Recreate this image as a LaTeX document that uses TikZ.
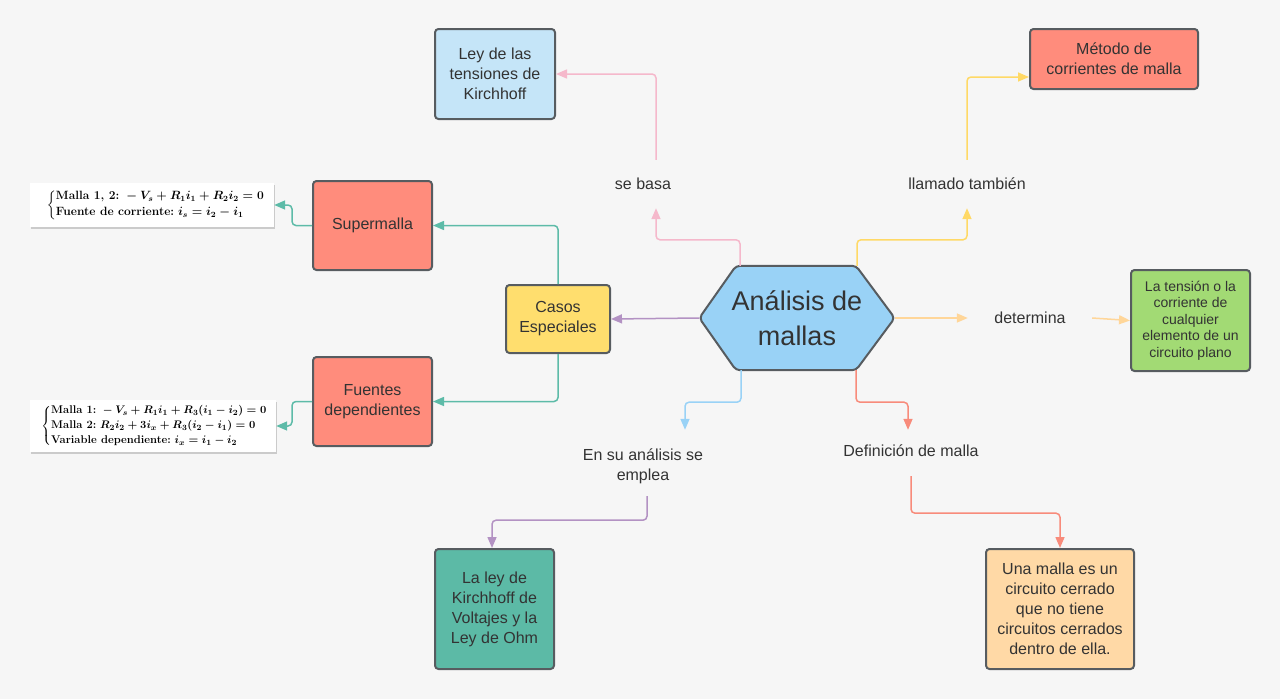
\documentclass[tikz,border=0pt]{standalone}
\usepackage{amsmath}
\usepackage{fontspec}
\newfontfamily\arialf{Liberation Sans}
\usetikzlibrary{arrows.meta,shadows,calc}
\pgfdeclarelayer{back}
\pgfsetlayers{back,main}
\definecolor{bgc}{HTML}{F6F6F6}
\definecolor{boxline}{HTML}{575C60}
\definecolor{txt}{HTML}{333333}
\definecolor{cley}{HTML}{C5E5F8}
\definecolor{csalmon}{HTML}{FF8C7C}
\definecolor{cgreen}{HTML}{A2DA74}
\definecolor{cyellow}{HTML}{FFDE6E}
\definecolor{cteal}{HTML}{5CBAA6}
\definecolor{cpeach}{HTML}{FFD9A6}
\definecolor{chex}{HTML}{99D2F6}
\definecolor{lpink}{HTML}{F5B8CB}
\definecolor{lyellow}{HTML}{FFD966}
\definecolor{lorange}{HTML}{FFD699}
\definecolor{lpurple}{HTML}{B392C3}
\definecolor{lteal}{HTML}{5DBBA8}
\definecolor{lblue}{HTML}{99D2F6}
\definecolor{lred}{HTML}{F88B7B}
\begin{document}
\begin{tikzpicture}[x=1pt,y=-1pt,
  box/.style={draw=boxline, line width=2pt, rounded corners=3.5pt, align=center,
    font=\arialf\fontsize{16}{20}\selectfont, text=txt, inner sep=0pt},
  lbl/.style={align=center, font=\arialf\fontsize{16}{20}\selectfont, text=txt, inner sep=0pt},
  conn/.style={line width=1.5pt, rounded corners=4pt, -{Triangle[length=11pt,width=9pt]}},
  fbox/.style={fill=white, inner sep=0pt, align=left,
    drop shadow={shadow xshift=0.5pt, shadow yshift=-2pt, fill=black!70, opacity=0.25}}
]
\begin{pgfonlayer}{back}
\useasboundingbox[fill=bgc] (0,0) rectangle (1280,699);
\end{pgfonlayer}

% central hexagon (text node)
\node[lbl, minimum width=195pt, minimum height=104pt, font=\arialf\fontsize{27}{35}\selectfont] (hex) at (797,318) {Análisis de\\mallas};
\begin{pgfonlayer}{back}
\draw[fill=chex, draw=boxline, line width=2pt, rounded corners=4pt]
  (hex.west) -- ([xshift=-61pt]hex.north) -- ([xshift=59pt]hex.north) -- (hex.east)
  -- ([xshift=59pt]hex.south) -- ([xshift=-61pt]hex.south) -- cycle;
\end{pgfonlayer}

% boxes
\node[box, fill=cley, minimum width=120pt, minimum height=90pt] (ley) at (495,74) {Ley de las\\tensiones de\\Kirchhoff};
\node[box, fill=csalmon, minimum width=168pt, minimum height=60pt] (metodo) at (1114,59) {Método de\\corrientes de malla};
\node[box, fill=cgreen, minimum width=119pt, minimum height=101pt, font=\arialf\fontsize{14}{16.5}\selectfont] (verde) at (1190.5,320.5) {La tensión o la\\corriente de\\cualquier\\elemento de un\\circuito plano};
\node[box, fill=cyellow, minimum width=104pt, minimum height=68pt] (casos) at (558,319) {Casos\\Especiales};
\node[box, fill=csalmon, minimum width=119pt, minimum height=89pt] (super) at (372.5,225.5) {Supermalla};
\node[box, fill=csalmon, minimum width=119pt, minimum height=89pt] (fuentes) at (372.5,401.5) {Fuentes\\dependientes};
\node[box, fill=cteal, minimum width=119pt, minimum height=120pt] (kvl) at (494.5,609) {La ley de\\Kirchhoff de\\Voltajes y la\\Ley de Ohm};
\node[box, fill=cpeach, minimum width=148pt, minimum height=120pt] (malla) at (1060,609) {Una malla es un\\circuito cerrado\\que no tiene\\circuitos cerrados\\dentro de ella.};

% formula boxes
\node[fbox, minimum width=244pt, minimum height=44pt, font=\boldmath\fontsize{12}{13.5}\selectfont] (f1) at (152,205)
 {\hspace{8pt}$\left\{\begin{array}{@{}l@{}}\textbf{Malla 1, 2:}\ -V_s+R_1i_1+R_2i_2=0\\[2pt] \textbf{Fuente de corriente:}\ i_s=i_2-i_1\end{array}\right.$\hfill};
\node[fbox, minimum width=246pt, minimum height=52pt, font=\boldmath\fontsize{11.2}{12.8}\selectfont] (f2) at (153,426)
 {\hspace{3pt}$\left\{\begin{array}{@{}l@{}}\textbf{Malla 1:}\ -V_s+R_1i_1+R_3(i_1-i_2)=0\\[2pt] \textbf{Malla 2:}\ R_2i_2+3i_x+R_3(i_2-i_1)=0\\[2pt] \textbf{Variable dependiente:}\ i_x=i_1-i_2\end{array}\right.$\hfill};

% labels
\node[lbl, minimum height=48pt] (sebasa) at (643,184) {se basa};
\node[lbl, minimum height=48pt] (llamado) at (967,184) {llamado también};
\node[lbl, minimum width=124pt] (determina) at (1030,318) {determina};
\node[lbl, minimum height=72pt] (ensu) at (643,466) {En su análisis se\\emplea};
\node[lbl, minimum height=42pt] (defin) at (911,451) {Definición de malla};

% connectors
\draw[conn, lpink] ([xshift=-57pt]hex.north) -- ++(0,-26) -| ([xshift=13pt]sebasa.south);
\draw[conn, lpink] ([xshift=13pt]sebasa.north) |- (ley.east);
\draw[conn, lyellow] ([xshift=60pt]hex.north) -- ++(0,-26) -| (llamado.south);
\draw[conn, lyellow] (llamado.north) |- ([yshift=-18pt]metodo.west);
\draw[conn, lorange] (hex.east) -- (determina.west);
\draw[conn, lorange] (determina.east) -- (verde.west);
\draw[conn, lpurple] (hex.west) -- (casos.east);
\draw[conn, lteal] (casos.north) |- (super.east);
\draw[conn, lteal] (casos.south) |- (fuentes.east);
\draw[conn, lteal] (super.west) -- ++(-20,0) |- (f1.east);
\draw[conn, lteal] (fuentes.west) -- ++(-20,0) |- (f2.east);
\draw[conn, lblue] ([xshift=-56pt]hex.south) -- ++(0,32) -| ([xshift=42pt]ensu.north);
\draw[conn, lpurple] ([xshift=4pt,yshift=6pt]ensu.south) -- ++(0,24) -| ([xshift=-2.5pt]kvl.north);
\draw[conn, lred] ([xshift=59pt]hex.south) -- ++(0,32) -| ([xshift=-3pt]defin.north);
\draw[conn, lred] ([yshift=-4pt]defin.south) -- ++(0,37) -| (malla.north);
\end{tikzpicture}
\end{document}
